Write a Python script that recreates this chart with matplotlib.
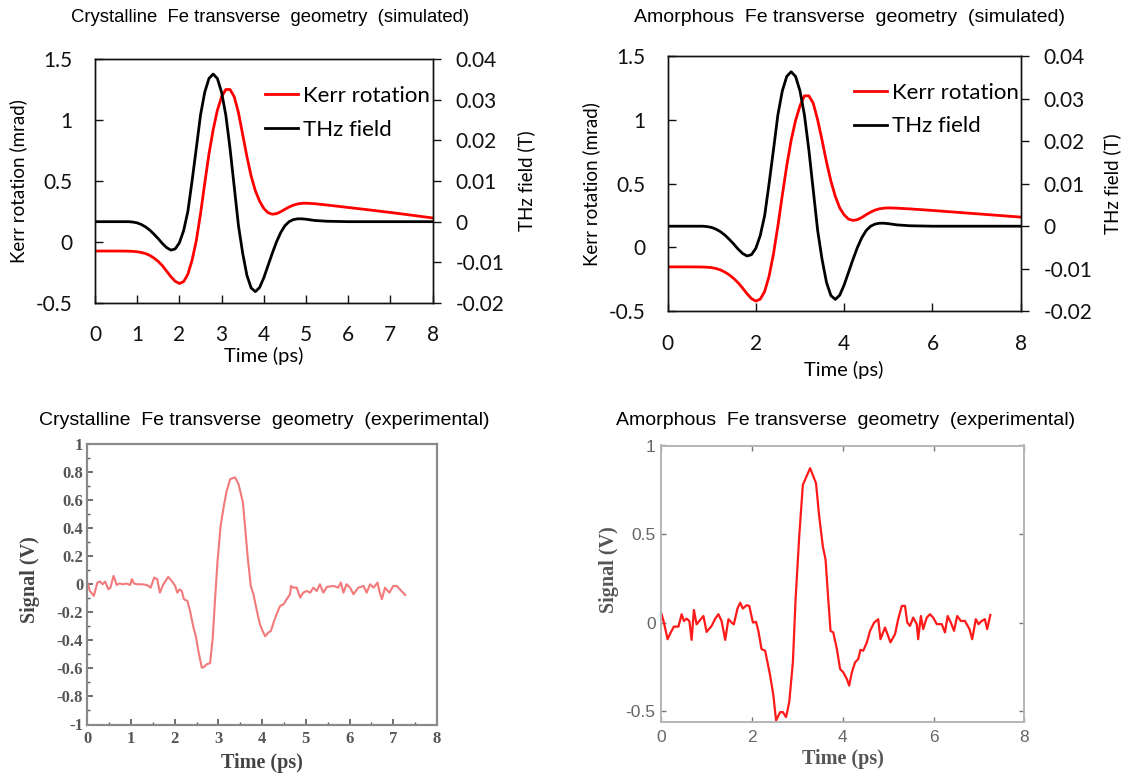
import matplotlib
matplotlib.use('Agg')
import matplotlib.pyplot as plt
from matplotlib.lines import Line2D
from matplotlib.ticker import MultipleLocator

# ---------------- data ----------------
sim_time = [0, 0.5, 0.8, 0.9, 1.0, 1.1, 1.2, 1.3, 1.4, 1.5, 1.6, 1.7, 1.8, 1.9,
            2.0, 2.1, 2.2, 2.3, 2.4, 2.5, 2.6, 2.7, 2.8, 2.9, 3.0, 3.1, 3.2, 3.3,
            3.4, 3.5, 3.6, 3.7, 3.8, 3.9, 4.0, 4.1, 4.2, 4.3, 4.4, 4.5, 4.6, 4.7,
            4.8, 4.9, 5.0, 5.2, 5.5, 6.0, 6.5, 7.0, 7.5, 8.0]

thz_field = [0, 0, 0.0000, -0.0001, -0.0003, -0.0007, -0.0013, -0.0021, -0.0031,
             -0.0042, -0.0054, -0.0064, -0.0070, -0.0067, -0.0052, -0.0022, 0.0025,
             0.0100, 0.0180, 0.0262, 0.0318, 0.0352, 0.0363, 0.0352, 0.0318, 0.0262,
             0.0180, 0.0085, -0.0010, -0.0078, -0.0132, -0.0163, -0.0172, -0.0162,
             -0.0138, -0.0108, -0.0078, -0.0050, -0.0027, -0.0010, 0.0000, 0.0005,
             0.0007, 0.0007, 0.0006, 0.0003, 0.0001, 0, 0, 0, 0, 0]

kerr_cryst_sim = [-0.074, -0.074, -0.075, -0.077, -0.080, -0.086, -0.095, -0.110,
                  -0.132, -0.160, -0.195, -0.240, -0.285, -0.322, -0.340, -0.325,
                  -0.265, -0.150, 0.010, 0.230, 0.480, 0.720, 0.920, 1.080, 1.190,
                  1.250, 1.250, 1.190, 1.060, 0.880, 0.700, 0.540, 0.420, 0.335,
                  0.275, 0.240, 0.228, 0.232, 0.248, 0.268, 0.287, 0.302, 0.312,
                  0.317, 0.318, 0.314, 0.303, 0.283, 0.263, 0.242, 0.220, 0.197]

kerr_amor_sim = [-0.152, -0.152, -0.153, -0.155, -0.158, -0.165, -0.176, -0.193,
                 -0.215, -0.243, -0.277, -0.318, -0.362, -0.400, -0.420, -0.405,
                 -0.345, -0.225, -0.050, 0.170, 0.410, 0.640, 0.840, 0.995, 1.110,
                 1.188, 1.188, 1.130, 1.000, 0.840, 0.670, 0.520, 0.400, 0.310,
                 0.255, 0.222, 0.212, 0.218, 0.235, 0.257, 0.277, 0.293, 0.303,
                 0.308, 0.310, 0.308, 0.302, 0.290, 0.277, 0.264, 0.251, 0.238]

exp_cryst_time = [0.00, 0.06, 0.15, 0.23, 0.29, 0.35, 0.41, 0.48, 0.53, 0.60, 0.63,
                  0.67, 0.73, 0.82, 0.90, 0.98, 1.02, 1.07, 1.14, 1.24, 1.36, 1.45,
                  1.53, 1.60, 1.66, 1.74, 1.85, 1.93, 2.01, 2.06, 2.11, 2.16, 2.21,
                  2.29, 2.35, 2.43, 2.49, 2.54, 2.62, 2.67, 2.73, 2.81, 2.87, 2.92,
                  2.98, 3.05, 3.13, 3.19, 3.27, 3.38, 3.46, 3.56, 3.61, 3.67, 3.74,
                  3.80, 3.88, 3.95, 4.01, 4.07, 4.14, 4.20, 4.26, 4.33, 4.41, 4.49,
                  4.56, 4.64, 4.66, 4.71, 4.79, 4.87, 4.94, 5.02, 5.10, 5.17, 5.25,
                  5.32, 5.40, 5.48, 5.63, 5.74, 5.80, 5.86, 5.93, 6.01, 6.09, 6.20,
                  6.32, 6.39, 6.47, 6.55, 6.64, 6.68, 6.74, 6.81, 6.91, 7.00, 7.08,
                  7.15, 7.27]
exp_cryst_signal = [0.012, -0.048, -0.083, 0.012, 0.019, 0.000, 0.019, -0.036, -0.024,
                    0.060, 0.036, -0.005, 0.005, 0.000, 0.005, -0.005, 0.036, 0.005,
                    0.000, 0.000, -0.005, -0.024, 0.048, 0.036, -0.060, 0.000, 0.052,
                    0.024, -0.012, -0.060, -0.036, -0.048, -0.107, -0.119, -0.190,
                    -0.310, -0.380, -0.476, -0.595, -0.590, -0.571, -0.562, -0.381,
                    -0.119, 0.167, 0.417, 0.571, 0.667, 0.750, 0.762, 0.714, 0.583,
                    0.405, 0.190, -0.012, -0.071, -0.190, -0.286, -0.333, -0.371,
                    -0.345, -0.333, -0.274, -0.214, -0.155, -0.143, -0.107, -0.071,
                    -0.012, -0.024, -0.024, -0.095, -0.060, -0.048, -0.060, -0.024,
                    -0.048, 0.000, -0.060, -0.019, -0.012, -0.024, 0.012, -0.060,
                    0.000, -0.024, -0.071, -0.024, -0.012, -0.060, 0.000, -0.024,
                    0.012, -0.048, -0.107, -0.024, -0.060, -0.012, -0.012, -0.036,
                    -0.076]

exp_amor_time = [0.01, 0.06, 0.14, 0.21, 0.28, 0.38, 0.45, 0.50, 0.56, 0.62, 0.67,
                 0.72, 0.78, 0.84, 0.93, 1.00, 1.11, 1.19, 1.26, 1.33, 1.41, 1.48,
                 1.55, 1.60, 1.68, 1.74, 1.80, 1.88, 1.94, 2.02, 2.09, 2.14, 2.21,
                 2.29, 2.40, 2.47, 2.53, 2.62, 2.68, 2.75, 2.82, 2.90, 2.96, 3.04,
                 3.12, 3.20, 3.28, 3.41, 3.48, 3.56, 3.62, 3.68, 3.73, 3.79, 3.87,
                 3.94, 4.01, 4.09, 4.14, 4.20, 4.27, 4.34, 4.39, 4.45, 4.53, 4.60,
                 4.69, 4.78, 4.83, 4.93, 5.05, 5.15, 5.22, 5.30, 5.37, 5.42, 5.48,
                 5.55, 5.63, 5.66, 5.72, 5.77, 5.85, 5.92, 5.99, 6.07, 6.18, 6.25,
                 6.31, 6.38, 6.45, 6.52, 6.60, 6.69, 6.79, 6.85, 6.93, 6.99, 7.06,
                 7.13, 7.18, 7.25]
exp_amor_signal = [0.047, 0.000, -0.094, -0.056, -0.023, -0.023, 0.047, 0.009, 0.022,
                   0.009, -0.098, 0.071, -0.010, 0.009, 0.037, -0.053, -0.019, 0.022,
                   0.047, 0.009, -0.098, 0.019, 0.000, -0.010, 0.079, 0.112, 0.079,
                   0.098, 0.094, 0.000, 0.004, -0.047, -0.150, -0.159, -0.300, -0.410,
                   -0.553, -0.506, -0.506, -0.534, -0.450, -0.225, 0.131, 0.487, 0.778,
                   0.825, 0.872, 0.787, 0.600, 0.431, 0.356, 0.131, -0.047, -0.056,
                   -0.150, -0.262, -0.281, -0.319, -0.356, -0.281, -0.225, -0.206,
                   -0.154, -0.159, -0.112, -0.047, 0.000, 0.019, -0.094, -0.028,
                   -0.112, -0.066, 0.019, 0.094, 0.094, 0.000, -0.019, 0.028, -0.009,
                   -0.094, 0.037, -0.037, 0.028, 0.047, 0.028, -0.009, -0.009, -0.056,
                   0.037, 0.000, -0.047, 0.037, 0.009, 0.009, -0.037, -0.094, 0.019,
                   -0.009, 0.009, 0.019, -0.037, 0.043]

titles = ["Crystalline  Fe transverse  geometry  (simulated)",
          "Amorphous  Fe transverse  geometry  (simulated)",
          "Crystalline  Fe transverse  geometry  (experimental)",
          "Amorphous  Fe transverse  geometry  (experimental)"]

# ---------------- figure ----------------
W, H = 1124, 776
fig = plt.figure(figsize=(W / 100, H / 100), dpi=100)
fig.patch.set_facecolor('white')


def ax_px(x0, y0, x1, y1):
    return fig.add_axes([x0 / W, 1 - y1 / H, (x1 - x0) / W, (y1 - y0) / H])


def ftext(x, y, s, **kw):
    fig.text(x / W, 1 - y / H, s, **kw)


SIM_FONT = 'Lato'
TITLE_FONT = 'Liberation Sans'


def sim_panel(box, kerr, xticks, leg_anchor, ylab_x, thz_lab_x, time_pad):
    ax = ax_px(*box)
    ax.plot(sim_time, kerr, color='#ff0000', lw=2.0)
    ax.set_xlim(0, 8)
    ax.set_ylim(-0.5, 1.5)
    ax.set_xticks(xticks)
    ax.set_xticklabels([str(v) for v in xticks])
    ax.set_yticks([-0.5, 0, 0.5, 1, 1.5])
    ax.set_yticklabels(['-0.5', '0', '0.5', '1', '1.5'])
    ax.tick_params(axis='both', direction='in', length=6, width=1.0,
                   labelsize=15, colors='#111111')
    ax.tick_params(axis='y', pad=16)
    ax.tick_params(axis='x', pad=16)
    for lab in ax.get_xticklabels() + ax.get_yticklabels():
        lab.set_fontfamily(SIM_FONT)
    for sp in ax.spines.values():
        sp.set_linewidth(1.0)
        sp.set_color('#111111')
    ax.set_xlabel('Time (ps)', fontsize=14.5, family=SIM_FONT, labelpad=time_pad)

    ax2 = ax.twinx()
    ax2.plot(sim_time, thz_field, color='black', lw=2.0)
    ax2.set_ylim(-0.02, 0.04)
    ax2.set_yticks([-0.02, -0.01, 0, 0.01, 0.02, 0.03, 0.04])
    ax2.set_yticklabels(['-0.02', '-0.01', '0', '0.01', '0.02', '0.03', '0.04'])
    ax2.tick_params(axis='y', direction='out', length=6, width=1.0,
                    labelsize=15, pad=10.5, colors='#111111')
    for lab in ax2.get_yticklabels():
        lab.set_fontfamily(SIM_FONT)
    for sp in ax2.spines.values():
        sp.set_linewidth(1.0)
        sp.set_color('#111111')

    handles = [Line2D([], [], color='#ff0000', lw=2.0),
               Line2D([], [], color='black', lw=2.0)]
    ax2.legend(handles, ['Kerr rotation', 'THz field'], loc='upper left',
               bbox_to_anchor=leg_anchor, frameon=False, borderpad=0,
               borderaxespad=0, handlelength=1.5, handletextpad=0.2,
               labelspacing=0.62, prop={'family': SIM_FONT, 'size': 16})

    yc = 0.5 * (box[1] + box[3])
    ftext(ylab_x, yc, 'Kerr rotation (mrad)', rotation=90, ha='center',
          va='center', fontsize=13.5, family=SIM_FONT)
    ftext(thz_lab_x, yc, 'THz field (T)', rotation=90, ha='center',
          va='center', fontsize=13.5, family=SIM_FONT)
    return ax


# top-left
sim_panel((95, 59, 432.6, 303), kerr_cryst_sim, list(range(9)),
          (0.503, 0.89), 18, 526, 1)
# top-right
sim_panel((667.5, 56, 1020.8, 311.3), kerr_amor_sim, [0, 2, 4, 6, 8],
          (0.528, 0.896), 591, 1112, 5)

# titles
ftext(270, 18, titles[0], ha='center', va='center', fontsize=13.3, family=TITLE_FONT)
ftext(850, 17, titles[1], ha='center', va='center', fontsize=14, family=TITLE_FONT)
ftext(264, 421, titles[2], ha='center', va='center', fontsize=14, family=TITLE_FONT)
ftext(846, 421, titles[3], ha='center', va='center', fontsize=14, family=TITLE_FONT)

# ---------------- bottom-left (experimental, crystalline) ----------------
SERIF = 'Liberation Serif'
ax = ax_px(87.3, 444, 437, 724.5)
ax.plot(exp_cryst_time, exp_cryst_signal, color='#f27a7a', lw=1.5)
ax.set_xlim(0, 8)
ax.set_ylim(-1, 1)
ax.xaxis.set_minor_locator(MultipleLocator(0.5))
ax.yaxis.set_minor_locator(MultipleLocator(0.1))
yt = [-1, -0.8, -0.6, -0.4, -0.2, 0, 0.2, 0.4, 0.6, 0.8, 1]
ax.set_yticks(yt)
ax.set_yticklabels(['-1', '-0.8', '-0.6', '-0.4', '-0.2', '0', '0.2', '0.4',
                    '0.6', '0.8', '1'])
ax.set_xticks(range(9))
ax.set_xticklabels([str(v) for v in range(9)])
ax.tick_params(which='major', direction='in', length=4.5, width=1.2,
               colors='#555555', labelsize=12, top=False, right=False)
ax.tick_params(which='minor', direction='in', length=2.5, width=1.0,
               colors='#555555', top=False, right=False)
ax.tick_params(axis='y', pad=3)
ax.tick_params(axis='x', pad=5)
for lab in ax.get_xticklabels() + ax.get_yticklabels():
    lab.set_fontfamily(SERIF)
    lab.set_fontweight('bold')
    lab.set_color('#555555')
for sp in ax.spines.values():
    sp.set_linewidth(1.6)
    sp.set_color('#8a8a8a')
ax.set_xlabel('Time (ps)', fontsize=14.5, family=SERIF, fontweight='bold',
              color='#444444', labelpad=4)
ftext(30, 580, 'Signal (V)', rotation=90, ha='center', va='center',
      fontsize=14.5, family=SERIF, fontweight='bold', color='#444444')

# ---------------- bottom-right (experimental, amorphous) ----------------
ax = ax_px(661.2, 445.5, 1024.4, 721.7)
ax.plot(exp_amor_time, exp_amor_signal, color='#ff1a1a', lw=1.6)
ax.set_xlim(0, 8)
ax.set_ylim(-0.56, 1)
ax.set_xticks([0, 2, 4, 6, 8])
ax.set_xticklabels(['0', '2', '4', '6', '8'])
ax.set_yticks([-0.5, 0, 0.5, 1])
ax.set_yticklabels(['-0.5', '0', '0.5', '1'])
ax.tick_params(direction='in', length=3.5, width=1.0, colors='#777777',
               labelsize=12.5, top=True, right=True)
ax.tick_params(axis='y', pad=4)
ax.tick_params(axis='x', pad=6)
for lab in ax.get_xticklabels() + ax.get_yticklabels():
    lab.set_fontfamily('Liberation Sans')
    lab.set_color('#666666')
for sp in ax.spines.values():
    sp.set_linewidth(1.4)
    sp.set_color('#b5b5b5')
ax.set_xlabel('Time (ps)', fontsize=14.5, family=SERIF, fontweight='bold',
              color='#555555', labelpad=3)
ftext(609, 570, 'Signal (V)', rotation=90, ha='center', va='center',
      fontsize=14.5, family=SERIF, fontweight='bold', color='#555555')

fig.savefig('out.png', dpi=100, facecolor='white')
